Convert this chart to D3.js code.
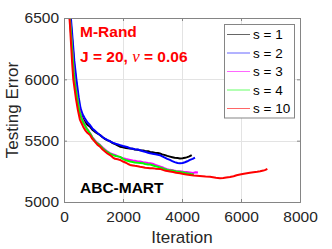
<!DOCTYPE html>
<html>
<head>
<meta charset="utf-8">
<script src="https://cdn.jsdelivr.net/npm/d3@7"></script>
<style>
  body { margin: 0; background: #fff; }
  svg { display: block; font-family: "Liberation Sans", Arial, sans-serif; }
</style>
</head>
<body>
<div id="chart"></div>
<script>
// chart values
var xTicks = [0, 2000, 4000, 6000, 8000];
var yTicks = [5000, 5500, 6000, 6500];
var seriesNames = ["s = 1", "s = 2", "s = 3", "s = 4", "s = 10"];
var seriesColors = ["#000000", "#0000ff", "#ff00ff", "#00ff00", "#ff0000"];

// [iteration, testing error]
var s1 = [[150,6700],[250,6400],[350,6100],[450,5900],[550,5725],[620,5690],[700,5655],[790,5630],[880,5614],[960,5590],[1050,5572],[1130,5560],[1220,5546],[1300,5530],[1400,5512],[1480,5502],[1560,5495],[1650,5480],[1750,5470],[1830,5460],[1900,5451],[2000,5446],[2100,5440],[2240,5436],[2330,5434],[2400,5428],[2500,5426],[2580,5422],[2680,5420],[2750,5416],[2850,5414],[2920,5408],[3000,5406],[3100,5400],[3180,5399],[3250,5395],[3330,5388],[3400,5384],[3500,5376],[3590,5370],[3670,5365],[3750,5360],[3850,5358],[3930,5355],[4020,5357],[4100,5360],[4180,5366],[4250,5372],[4330,5383]];
var s2 = [[150,6750],[250,6450],[350,6150],[420,6000],[500,5850],[560,5765],[630,5715],[700,5685],[790,5650],[880,5628],[960,5600],[1050,5580],[1130,5562],[1220,5546],[1300,5530],[1400,5515],[1480,5504],[1560,5495],[1650,5484],[1750,5475],[1830,5470],[1900,5464],[2000,5456],[2100,5450],[2170,5446],[2240,5438],[2330,5434],[2400,5430],[2500,5428],[2580,5422],[2680,5414],[2750,5409],[2850,5402],[2920,5397],[3000,5394],[3100,5389],[3180,5385],[3250,5382],[3330,5372],[3400,5364],[3500,5352],[3590,5343],[3670,5333],[3750,5325],[3850,5318],[3930,5315],[4020,5318],[4100,5324],[4180,5332],[4270,5343],[4360,5352],[4440,5362]];
var s3 = [[130,6700],[230,6400],[330,6080],[380,5960],[450,5850],[520,5750],[580,5700],[650,5660],[760,5605],[880,5562],[960,5530],[1050,5502],[1130,5482],[1220,5466],[1300,5446],[1400,5426],[1480,5410],[1560,5398],[1650,5390],[1750,5381],[1830,5372],[1900,5366],[2000,5357],[2100,5350],[2240,5343],[2330,5338],[2400,5336],[2500,5330],[2580,5330],[2680,5324],[2750,5322],[2850,5318],[2920,5316],[3000,5312],[3100,5302],[3250,5290],[3330,5284],[3400,5276],[3500,5268],[3590,5262],[3700,5258],[3800,5252],[3930,5250],[4050,5246],[4150,5244],[4270,5240],[4380,5236],[4460,5242],[4540,5240]];
var s4 = [[130,6700],[230,6400],[330,6050],[370,5960],[450,5840],[520,5740],[580,5690],[650,5650],[760,5600],[880,5560],[960,5525],[1050,5496],[1130,5478],[1220,5462],[1300,5440],[1400,5420],[1480,5406],[1560,5395],[1650,5384],[1750,5375],[1830,5372],[1900,5368],[2000,5352],[2100,5340],[2240,5330],[2330,5326],[2400,5322],[2500,5320],[2580,5318],[2680,5316],[2750,5310],[2850,5306],[2920,5305],[3000,5300],[3100,5292],[3250,5282],[3330,5276],[3400,5270],[3500,5262],[3590,5258],[3700,5254],[3800,5248],[3930,5245],[4050,5240],[4100,5236],[4200,5232],[4300,5228],[4400,5225]];
var s10 = [[100,6800],[200,6450],[280,6120],[315,6000],[400,5850],[470,5750],[542,5669],[600,5640],[650,5614],[720,5584],[800,5562],[881,5546],[960,5514],[1050,5490],[1130,5468],[1220,5451],[1300,5430],[1400,5410],[1480,5394],[1560,5383],[1650,5364],[1730,5352],[1820,5348],[1900,5343],[2000,5330],[2100,5320],[2170,5310],[2240,5302],[2330,5298],[2400,5295],[2500,5292],[2576,5288],[2680,5284],[2750,5280],[2850,5278],[2915,5275],[3000,5276],[3100,5272],[3250,5270],[3350,5262],[3450,5254],[3593,5248],[3700,5244],[3800,5238],[3932,5234],[4050,5228],[4150,5224],[4271,5220],[4400,5216],[4500,5214],[4600,5212],[4700,5210],[4800,5208],[4949,5206],[5050,5202],[5150,5198],[5288,5194],[5400,5196],[5500,5200],[5627,5204],[5750,5210],[5850,5218],[5966,5224],[6100,5230],[6200,5234],[6300,5238],[6418,5242],[6550,5246],[6650,5250],[6757,5256],[6830,5262],[6893,5270]];

var seriesData = [s1, s2, s3, s4, s10];

var width = 332, height = 249;
var mLeft = 64, mRight = 300, mTop = 18, mBottom = 202;

var svg = d3.select("#chart").append("svg")
    .attr("width", width)
    .attr("height", height);

var xScale = d3.scaleLinear().domain([0, 8000]).range([mLeft, mRight]);
var yScale = d3.scaleLinear().domain([5000, 6500]).range([mBottom, mTop]);

// plot background
svg.append("rect")
    .attr("x", mLeft).attr("y", mTop)
    .attr("width", mRight - mLeft).attr("height", mBottom - mTop)
    .attr("fill", "#fff");

// grid
var grid = svg.append("g").attr("stroke", "#e3e3e3").attr("stroke-width", 1);
grid.selectAll("line.gx").data(xTicks).enter().append("line")
    .attr("x1", function(d) { return Math.round(xScale(d)) + 0.5; })
    .attr("x2", function(d) { return Math.round(xScale(d)) + 0.5; })
    .attr("y1", mTop).attr("y2", mBottom);
grid.selectAll("line.gy").data(yTicks).enter().append("line")
    .attr("y1", function(d) { return Math.round(yScale(d)) + 0.5; })
    .attr("y2", function(d) { return Math.round(yScale(d)) + 0.5; })
    .attr("x1", mLeft).attr("x2", mRight);

// curves
svg.append("clipPath").attr("id", "clip")
    .append("rect")
    .attr("x", mLeft).attr("y", mTop)
    .attr("width", mRight - mLeft).attr("height", mBottom - mTop);

var line = d3.line()
    .x(function(d) { return xScale(d[0]); })
    .y(function(d) { return yScale(d[1]); });

var curves = svg.append("g").attr("clip-path", "url(#clip)");
seriesData.forEach(function(data, i) {
    curves.append("path")
        .datum(data)
        .attr("d", line)
        .attr("fill", "none")
        .attr("stroke", seriesColors[i])
        .attr("stroke-width", 2)
        .attr("stroke-linejoin", "round");
});

// axes (MATLAB style, inward ticks)
var xAxis = d3.axisBottom(xScale).tickValues(xTicks).tickSize(-3).tickPadding(9).tickFormat(d3.format("d"));
var yAxis = d3.axisLeft(yScale).tickValues(yTicks).tickSize(-3).tickPadding(5).tickFormat(d3.format("d"));

var gx = svg.append("g").attr("transform", "translate(0," + mBottom + ")").call(xAxis);
var gy = svg.append("g").attr("transform", "translate(" + mLeft + ",0)").call(yAxis);
var gxTop = svg.append("g").attr("transform", "translate(0," + mTop + ")")
    .call(d3.axisTop(xScale).tickValues(xTicks).tickSize(-3).tickFormat(""));
var gyRight = svg.append("g").attr("transform", "translate(" + mRight + ",0)")
    .call(d3.axisRight(yScale).tickValues(yTicks).tickSize(-3).tickFormat(""));

[gx, gy, gxTop, gyRight].forEach(function(g) {
    g.select(".domain").attr("stroke", "#858585");
    g.selectAll(".tick line").attr("stroke", "#858585");
    g.selectAll("text")
        .attr("fill", "#262626")
        .style("font-size", "15.5px")
        .style("font-family", "Liberation Sans, Arial, sans-serif");
});

// axis labels
svg.append("text")
    .attr("x", (mLeft + mRight) / 2)
    .attr("y", 243)
    .attr("text-anchor", "middle")
    .attr("fill", "#262626")
    .style("font-size", "17px")
    .text("Iteration");

svg.append("text")
    .attr("transform", "translate(18," + ((mTop + mBottom) / 2) + ") rotate(-90)")
    .attr("text-anchor", "middle")
    .attr("fill", "#262626")
    .style("font-size", "17px")
    .text("Testing Error");

// annotations
svg.append("text")
    .attr("x", 80).attr("y", 37)
    .attr("fill", "#ff0000")
    .style("font-size", "15.5px").style("font-weight", "bold")
    .text("M-Rand");

var t2 = svg.append("text")
    .attr("x", 80).attr("y", 61.5)
    .attr("fill", "#ff0000")
    .style("font-size", "15.5px").style("font-weight", "bold");
t2.append("tspan").text("J = 20, ");
t2.append("tspan").style("font-family", "Liberation Serif, Times New Roman, serif")
    .style("font-style", "italic").style("font-weight", "normal").style("font-size", "17px").text("\u03bd");
t2.append("tspan").text(" = 0.06");

svg.append("text")
    .attr("x", 80).attr("y", 193)
    .attr("fill", "#000")
    .style("font-size", "15.5px").style("font-weight", "bold")
    .text("ABC-MART");

// legend
var legend = svg.append("g");
legend.append("rect")
    .attr("x", 224.5).attr("y", 24.5)
    .attr("width", 70).attr("height", 93.5)
    .attr("fill", "#fff")
    .attr("stroke", "#858585")
    .attr("stroke-width", 1);

var legendY = d3.scalePoint().domain(seriesNames).range([34.5, 108.5]);
seriesNames.forEach(function(name, i) {
    var y = legendY(name);
    legend.append("line")
        .attr("x1", 227).attr("x2", 250)
        .attr("y1", y).attr("y2", y)
        .attr("stroke", seriesColors[i])
        .attr("stroke-opacity", 0.6)
        .attr("stroke-width", 1);
    legend.append("text")
        .attr("x", 253).attr("y", y)
        .attr("dy", "0.36em")
        .attr("fill", "#000")
        .style("font-size", "13.5px")
        .text(name);
});
</script>
</body>
</html>
